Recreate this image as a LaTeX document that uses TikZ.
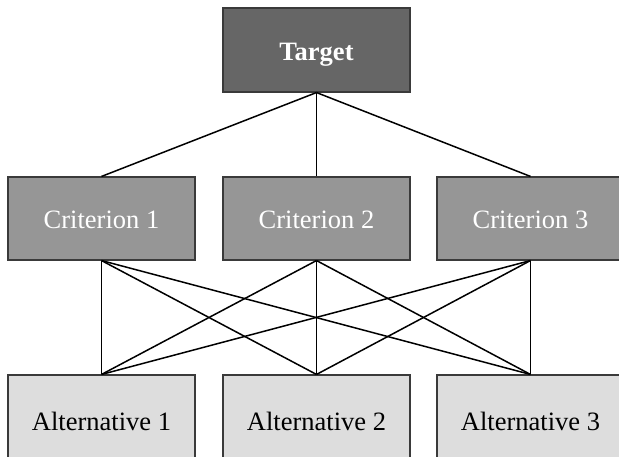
\documentclass[tikz,border=0pt]{standalone}
\usepackage{fontspec}
\setmainfont{Liberation Serif}
\definecolor{tgt}{HTML}{666666}
\definecolor{crit}{HTML}{969696}
\definecolor{alt}{HTML}{DDDDDD}
\definecolor{edge}{HTML}{3A3A3A}
\begin{document}
\begin{tikzpicture}[x=1pt,y=-1pt,
  box/.style={draw=edge,line width=1.1pt,minimum width=187pt,inner sep=0pt,text height=21pt,text depth=0pt,font=\fontsize{26.5}{28}\selectfont},
  tbox/.style={box,fill=tgt,text=white,minimum height=84pt,font=\fontsize{26.5}{28}\selectfont\bfseries},
  cbox/.style={box,fill=crit,text=white,minimum height=83pt},
  abox/.style={box,fill=alt,text=black,minimum height=90pt},
  link/.style={draw=black,line width=1.5pt}]
\useasboundingbox (0,0) rectangle (619,457);
\clip (0,0) rectangle (619,457);
\node[tbox] (T) at (316.5,50) {Target};
\node[cbox] (C1) at (101.5,218.5) {Criterion 1};
\node[cbox] (C2) at (316.5,218.5) {Criterion 2};
\node[cbox] (C3) at (530.5,218.5) {Criterion 3};
\node[abox] (A1) at (101.5,420) {Alternative 1};
\node[abox] (A2) at (316.5,420) {Alternative 2};
\node[abox] (A3) at (530.5,420) {Alternative 3};
\foreach \c in {C1,C2,C3}{
  \draw[link] (T.south) -- (\c.north);
  \foreach \a in {A1,A2,A3}{
    \draw[link] (\c.south) -- (\a.north);
  }
}
\end{tikzpicture}
\end{document}
